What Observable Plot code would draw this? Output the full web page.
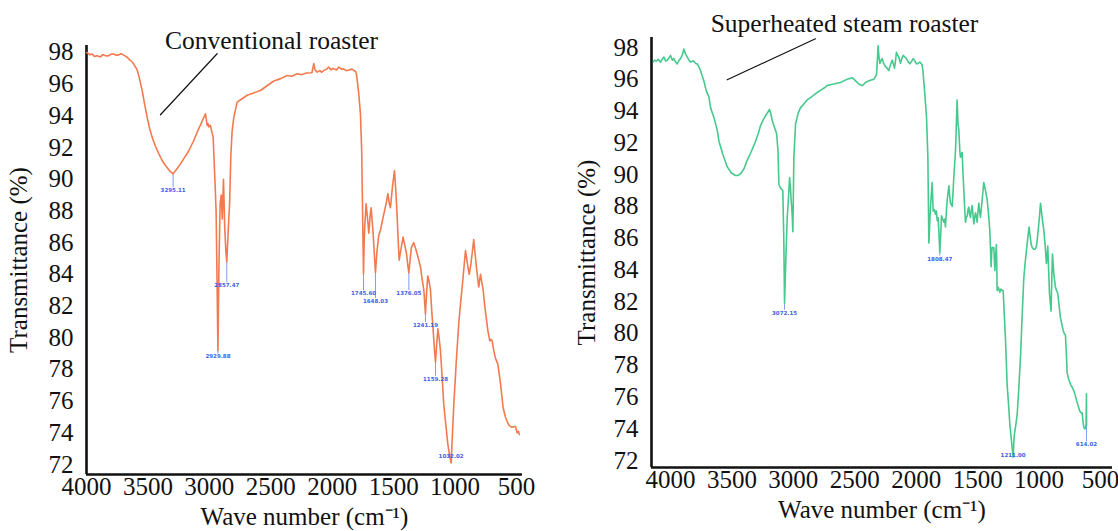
<!DOCTYPE html>
<html><head><meta charset="utf-8">
<script src="https://cdn.jsdelivr.net/npm/d3@7"></script>
<script src="https://cdn.jsdelivr.net/npm/@observablehq/plot@0.6"></script>
<style>
html,body{margin:0;padding:0;background:#fff;}
#wrap{position:relative;width:1118px;height:531px;overflow:hidden;background:#fff;}
.panel{position:absolute;top:0;width:559px;height:531px;}
.panel svg{overflow:visible;}
</style></head><body>
<div id="wrap"><div class="panel" id="p1" style="left:0"></div><div class="panel" id="p2" style="left:559px"></div></div>
<script>
// ---- tick labels ----
const xTicks = [4000, 3500, 3000, 2500, 2000, 1500, 1000, 500];
const yTicks = [72, 74, 76, 78, 80, 82, 84, 86, 88, 90, 92, 94, 96, 98];

// ---- panel titles ----
const titles = ["Conventional roaster", "Superheated steam roaster"];
const xLabel = "Wave number (cm\u207B\u00B9)";
const yLabel = "Transmittance (%)";

// ---- Conventional roaster spectrum ----
const convWn = [4000,3989,3970,3954,3935,3913,3886,3870,3859,3840,3818,3800,3778,3757,3737,3720,3710,3690,3669,3650,3628,3610,3588,3570,3547,3526,3506,3486,3466,3440,3411,3385,3357,3325,3295,3265,3235,3200,3167,3130,3099,3065,3032,3025,3018,3010,3005,2998,2991,2980,2969,2955,2945,2938,2930,2922,2912,2903,2895,2885,2875,2866,2858,2848,2835,2825,2815,2801,2790,2774,2740,2692,2640,2584,2530,2475,2420,2367,2330,2285,2250,2210,2165,2150,2140,2123,2100,2085,2068,2045,2028,2010,1995,1987,1965,1946,1925,1906,1885,1865,1840,1824,1810,1803,1785,1770,1760,1751,1745,1740,1735,1724,1712,1702,1690,1683,1675,1667,1655,1648,1635,1621,1607,1580,1560,1547,1536,1526,1510,1493,1480,1471,1462,1455,1440,1423,1408,1395,1385,1376,1365,1355,1336,1320,1309,1295,1281,1268,1254,1241,1232,1222,1210,1200,1188,1178,1168,1159,1150,1140,1130,1119,1105,1092,1075,1059,1045,1032,1022,1010,990,970,955,942,928,915,900,885,872,861,848,837,826,815,807,800,793,782,771,761,747,733,717,707,698,685,671,652,640,630,609,590,575,563,549,535,520,508,495,485,476];
const convT = [98.0,97.96,97.85,97.9,97.75,97.8,97.72,97.85,97.85,97.78,97.8,97.9,97.9,97.82,97.85,97.92,97.9,97.8,97.7,97.55,97.4,97.2,96.9,96.4,95.6,94.7,93.9,93.2,92.66,92.1,91.6,91.2,90.87,90.55,90.34,90.65,90.97,91.4,91.8,92.4,92.97,93.55,94.13,93.8,93.4,93.5,93.3,93.35,93.4,93.0,92.66,90.0,88.0,84.0,79.2,84.5,88.5,89.0,87.5,90.0,87.0,85.5,84.8,86.5,88.5,91.5,93.0,93.9,94.3,94.87,95.05,95.3,95.45,95.6,95.9,96.2,96.35,96.55,96.5,96.66,96.6,96.7,96.72,97.3,96.9,96.76,96.85,96.75,96.87,96.95,97.08,96.9,97.0,96.97,96.9,97.08,96.95,96.97,96.85,96.9,96.95,96.87,96.8,96.66,95.5,94.1,91.8,87.0,84.0,86.0,87.0,88.45,87.5,86.6,87.8,88.2,87.4,86.6,85.0,84.1,85.5,86.45,86.8,87.8,88.5,89.1,88.5,88.2,89.5,90.55,89.0,87.6,86.0,84.9,85.6,86.35,85.8,85.3,84.6,84.1,85.0,85.7,86.0,85.6,85.3,84.9,84.45,83.7,83.0,81.5,82.8,83.9,83.5,83.0,81.5,80.45,79.3,78.45,79.5,80.56,80.0,79.2,77.5,75.8,74.5,73.3,72.6,72.1,73.8,75.8,78.5,80.9,82.2,83.2,84.4,85.5,84.7,84.0,84.6,85.3,86.2,85.3,84.45,83.7,83.2,83.6,84.0,83.5,83.0,82.2,81.3,80.45,79.8,79.9,79.8,79.2,78.7,78.35,77.7,77.1,75.6,75.0,74.7,74.5,74.4,74.35,74.4,74.4,74.0,74.1,73.9];

// ---- Superheated steam roaster spectrum ----
const steamWn = [4140,4130,4115,4100,4081,4065,4054,4040,4027,4012,4000,3985,3973,3960,3946,3930,3919,3905,3892,3878,3864,3850,3837,3820,3810,3795,3783,3770,3756,3742,3729,3710,3688,3674,3647,3620,3606,3575,3539,3505,3471,3450,3430,3400,3376,3340,3308,3285,3267,3245,3227,3210,3194,3183,3172,3155,3137,3125,3118,3108,3099,3086,3078,3072,3062,3050,3040,3031,3024,3018,3010,3004,2996,2982,2960,2942,2915,2888,2860,2834,2800,2779,2750,2725,2700,2671,2645,2617,2590,2562,2540,2521,2505,2494,2480,2467,2455,2440,2425,2413,2400,2386,2365,2345,2330,2323,2310,2303,2296,2285,2277,2265,2250,2237,2223,2210,2196,2185,2177,2168,2161,2150,2142,2135,2128,2118,2106,2092,2079,2065,2052,2040,2025,2010,1998,1985,1971,1960,1952,1945,1935,1916,1905,1897,1884,1870,1862,1852,1843,1836,1829,1822,1816,1808,1800,1794,1785,1775,1768,1762,1755,1748,1734,1727,1721,1707,1700,1694,1680,1672,1667,1660,1653,1645,1640,1633,1626,1619,1612,1605,1599,1592,1585,1578,1572,1565,1558,1551,1545,1538,1531,1524,1517,1510,1504,1497,1490,1484,1477,1463,1450,1436,1422,1410,1401,1390,1386,1382,1374,1368,1360,1354,1347,1341,1332,1319,1310,1300,1292,1285,1273,1260,1248,1238,1228,1219,1211,1205,1200,1188,1178,1165,1151,1138,1124,1110,1097,1089,1081,1072,1064,1055,1043,1032,1021,1012,1002,995,988,975,961,950,940,934,929,922,915,902,896,891,885,880,873,866,857,847,836,826,815,804,795,785,778,771,758,744,730,717,705,695,680,668,657,649,643,636,628,622,617,614,613];
const steamT = [97.1,97.2,97.15,97.25,97.08,97.3,97.4,97.15,97.2,97.35,97.5,97.2,97.3,97.1,96.97,97.2,97.3,97.5,97.9,97.6,97.4,97.2,97.08,97.15,97.14,97.0,96.97,96.8,96.55,96.2,95.9,95.3,94.9,94.2,93.6,92.8,92.1,91.3,90.5,90.1,89.94,89.95,90.05,90.4,90.9,91.5,92.1,92.6,93.1,93.45,93.7,93.9,94.1,93.8,93.4,93.0,92.6,91.5,89.4,89.2,89.1,89.0,86.0,81.9,84.5,87.3,88.5,89.8,89.2,88.4,87.5,86.4,91.1,93.2,93.9,94.2,94.45,94.7,94.85,95.0,95.2,95.3,95.45,95.6,95.65,95.7,95.75,95.8,95.9,96.0,96.05,96.1,96.0,95.9,95.8,95.7,95.65,95.6,95.7,95.8,95.85,95.9,95.95,96.0,96.2,96.3,98.1,97.4,97.0,97.2,97.3,97.0,96.8,96.7,96.55,96.9,97.2,96.95,96.7,97.2,97.7,97.5,97.4,97.2,97.0,97.3,97.5,97.4,97.3,97.1,96.97,97.1,97.3,97.15,96.97,97.0,97.08,97.0,96.9,96.5,95.6,93.6,91.1,85.7,87.95,89.5,87.7,87.8,87.5,87.7,87.1,87.3,86.5,85.1,86.3,87.4,87.2,87.0,87.2,86.7,87.6,88.4,89.3,88.6,88.2,88.0,88.9,89.8,91.5,93.5,94.7,93.2,92.8,91.5,91.1,91.3,91.4,90.0,89.0,87.8,87.0,87.3,87.4,87.8,87.95,87.5,87.3,87.8,88.05,87.5,86.9,87.3,87.6,87.3,87.0,87.7,88.2,87.7,87.3,88.4,89.5,89.0,88.4,87.4,86.5,84.2,85.0,85.4,85.4,85.4,83.96,84.8,85.6,82.7,82.9,82.6,82.8,82.7,82.7,81.5,79.6,76.8,75.5,74.3,73.5,72.8,72.2,73.2,73.7,74.3,74.9,76.5,78.5,81.0,83.5,84.7,85.6,86.2,86.7,86.1,85.6,85.4,85.3,85.3,85.5,86.1,86.9,87.5,88.2,87.3,86.5,85.5,84.4,84.9,85.5,84.0,82.5,81.4,83.5,85.0,84.4,83.75,83.3,82.9,82.7,82.5,81.7,81.0,80.6,80.2,80.0,79.9,78.8,77.5,77.1,76.8,76.6,76.4,76.1,75.8,75.4,75.1,75.0,75.0,74.5,74.1,74.0,74.0,74.3,76.2,74.2];

// ---- peak markers (wavenumber, curve value, label value, label text) ----
const convPeakWn = [3295, 2930, 2858, 1745, 1648, 1376, 1241, 1159, 1032];
const convPeakT = [90.34, 79.2, 84.8, 84.0, 84.1, 84.1, 81.5, 78.45, 72.1];
const convPeakLabelT = [89.5, 79.0, 83.5, 83.0, 82.5, 83.0, 81.0, 77.6, 72.7];
const convPeakText = ["3295.11", "2929.88", "2857.47", "1745.60", "1648.03", "1376.05", "1241.19", "1159.28", "1032.02"];
const steamPeakWn = [3072, 1808, 1211, 614];
const steamPeakT = [81.9, 85.1, 72.2, 74.2];
const steamPeakLabelT = [81.5, 84.9, 72.5, 73.2];
const steamPeakText = ["3072.15", "1808.47", "1211.00", "614.02"];

// ---- leader lines from title (wavenumber, transmittance) ----
const convLeaderWn = [3398, 2937];
const convLeaderT = [94.07, 97.92];
const steamLeaderWn = [3539, 2820];
const steamLeaderT = [95.97, 98.55];
// title anchor (wavenumber, transmittance)
const titleWn = [2494, 2584];
const titleT = [98.2, 98.95];

const serif = "Liberation Serif, Times New Roman, serif";

function zip(a, b) { return a.map((v, i) => ({wn: v, t: b[i]})); }

function panel(o) {
  const series = zip(o.wn, o.t);
  const peaks = o.peakWn.map((w, i) => ({wn: w, t: o.peakT[i], lt: o.peakLT[i], txt: o.peakText[i]}));
  const leader = zip(o.leadWn, o.leadT);
  const svg = Plot.plot({
    width: 559, height: 531,
    marginLeft: o.ml, marginRight: o.mr, marginTop: o.mt, marginBottom: o.mb,
    x: {domain: o.xDomain, type: "linear"},
    y: {domain: o.yDomain, type: "linear"},
    style: {fontFamily: serif, fontSize: "25px", color: "#111", background: "transparent", overflow: "visible"},
    marks: [
      Plot.axisX({ticks: xTicks, tickSize: 0, tickPadding: 3, tickFormat: d => String(d), fontSize: 25, fontFamily: serif,
        label: xLabel, labelAnchor: "center", labelOffset: o.xlo, labelArrow: "none"}),
      Plot.axisY({ticks: yTicks, tickSize: 0, tickPadding: 13, tickFormat: d => String(d), fontSize: 25, fontFamily: serif,
        label: yLabel, labelAnchor: "center", labelOffset: o.ylo, labelArrow: "none"}),
      Plot.ruleX([o.xDomain[0]], {stroke: "#111", strokeWidth: 2.6}),
      Plot.ruleY([o.yDomain[0]], {stroke: "#111", strokeWidth: 2.6}),
      Plot.link(peaks, {x1: "wn", x2: "wn", y1: "t", y2: "lt", stroke: "#7f9cf0", strokeWidth: 1}),
      Plot.line(series, {x: "wn", y: "t", stroke: o.color, strokeWidth: 1.6, curve: "linear"}),
      Plot.text(peaks, {x: "wn", y: "lt", text: "txt", fill: "#3d5ee8", fontSize: 5.5, fontWeight: "bold", fontFamily: "DejaVu Sans", lineAnchor: "top", dy: 1}),
      Plot.line(leader, {x: "wn", y: "t", stroke: "#111", strokeWidth: 1.2}),
      Plot.text([o.title], {x: [o.titleWn], y: [o.titleT], text: d => d, fontSize: 25.5, fontFamily: serif, fill: "#111", lineAnchor: "bottom"})
    ]
  });
  svg.style.fontFamily = serif;
  return svg;
}

document.getElementById("p1").append(panel({
  wn: convWn, t: convT, color: "#f27a4e",
  peakWn: convPeakWn, peakT: convPeakT, peakLT: convPeakLabelT, peakText: convPeakText,
  leadWn: convLeaderWn, leadT: convLeaderT,
  title: titles[0], titleWn: titleWn[0], titleT: titleT[0],
  ml: 86, mr: 37, mt: 45, mb: 57,
  xDomain: [4000, 451], yDomain: [71.37, 98.44], xlo: 50, ylo: 77
}));
document.getElementById("p2").append(panel({
  wn: steamWn, t: steamT, color: "#45c98d",
  peakWn: steamPeakWn, peakT: steamPeakT, peakLT: steamPeakLabelT, peakText: steamPeakText,
  leadWn: steamLeaderWn, leadT: steamLeaderT,
  title: titles[1], titleWn: titleWn[1], titleT: titleT[1],
  ml: 92, mr: 6, mt: 37, mb: 64,
  xDomain: [4155, 402], yDomain: [71.56, 98.63], xlo: 50, ylo: 74
}));
</script>
</body></html>
